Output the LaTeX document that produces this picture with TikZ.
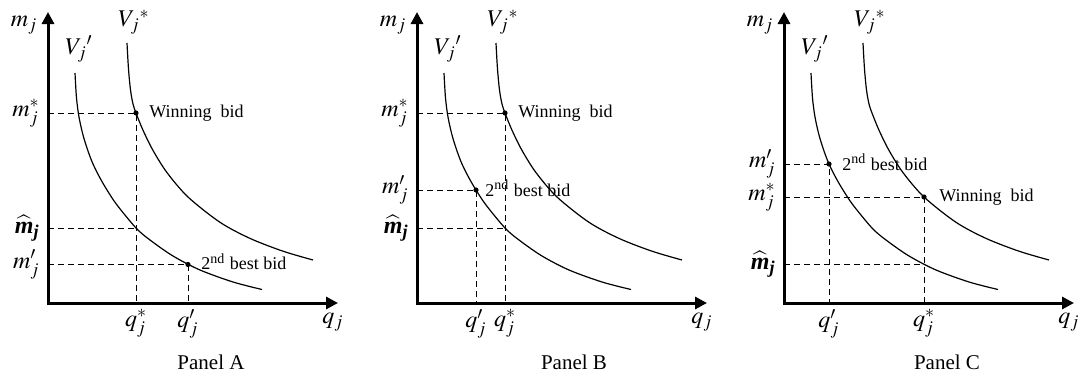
\documentclass[tikz,border=0pt]{standalone}
\usepackage{amsmath}
\usepackage{mathptmx}
\usepackage{fontspec}
\setmainfont{Liberation Serif}
\usetikzlibrary{arrows.meta,positioning}

\tikzset{
  axis/.style={line width=1.5pt, line join=miter, {Triangle[length=6pt,width=6pt]}-{Triangle[length=6pt,width=6pt]}},
  indiff/.style={line width=0.6pt},
  guide/.style={line width=0.5pt, dash pattern=on 3pt off 2pt},
  bid/.style={circle, fill, inner sep=0pt, minimum size=2.6pt},
  lbl/.style={font=\fontsize{9}{11}\selectfont, inner sep=1pt},
  sym/.style={font=\fontsize{12}{14}\selectfont, inner sep=1pt},
  title/.style={font=\fontsize{10.5}{12}\selectfont, inner sep=1pt},
}

\newcommand{\mhat}{\widehat{\textbf{\textit{m}}}_{\textbf{\textit{j}}}}
% axes, axis names and the two indifference curves of one panel
\newcommand{\drawframe}[1]{%
  \coordinate (o#1) at (0,0);
  \coordinate (ytop#1) at (0,291);
  \coordinate (xend#1) at (290,0);
  \draw[axis] (ytop#1) -- (o#1) -- (xend#1);
  \draw[indiff] plot[smooth] coordinates {(79,260) (80.5,234) (82.5,213) (85,199) (88,190) (95,172.8)
    (105,152.6) (119,130.4) (140,106) (172,80.7) (202,64.6) (235,51.8) (265,43)};
  \draw[indiff] plot[smooth] coordinates {(27,230) (28.5,205) (31,186) (35,168) (40,152) (45,139)
    (52,125) (59,113) (69,98) (88,75) (102,63) (125,47) (152,33) (185,21) (214,13.5)};
  \node[sym] (my#1) at (-24,278) {$m_j$};
  \node[sym, anchor=north] (qx#1) at (285,-8) {$q_j$};
  \node[sym] (vs#1) at (86,281) {$V_j{}^{*}$};
  \node[sym] (vp#1) at (31,254) {$V_j{}'$};
}

\begin{document}
\begin{tikzpicture}[x=0.5pt, y=0.5pt]
\useasboundingbox (0,0) rectangle (1083,376);

% Panel A
\begin{scope}[shift={(48,73)}]
  \drawframe{A}
  \coordinate (wA) at (88,190);
  \coordinate (hA) at (88,75);
  \coordinate (sA) at (140,38.5);
  \coordinate (ywA) at (wA -| oA);
  \coordinate (yhA) at (hA -| oA);
  \coordinate (ysA) at (sA -| oA);
  \coordinate (xwA) at (wA |- oA);
  \coordinate (xsA) at (sA |- oA);
  \draw[guide] (ywA) -- (wA) -- (xwA);
  \draw[guide] (yhA) -- (hA);
  \draw[guide] (ysA) -- (sA) -- (xsA);
  \node[bid] (dwA) at (wA) {};
  \node[bid] (dsA) at (sA) {};
  \node[lbl, right=4pt of dwA] (twA) {Winning~ bid};
  \node[lbl, right=4pt of dsA, yshift=1.5pt] (tsA) {2\textsuperscript{nd} best bid};
  \node[sym, left=3pt of ywA] (mwA) {$m_j^*$};
  \node[sym, left=3pt of yhA] (mhA) {$\mhat$};
  \node[sym, left=3pt of ysA] (msA) {$m'_j$};
  \node[sym, below=2pt of xwA] (qwA) {$q_j^*$};
  \node[sym, below=2pt of xsA] (qsA) {$q'_j$};
  \node[title] (pA) at (163,-59) {Panel A};
\end{scope}

% Panel B
\begin{scope}[shift={(417,73)}]
  \drawframe{B}
  \coordinate (wB) at (88,190);
  \coordinate (hB) at (88,75);
  \coordinate (sB) at (59,113);
  \coordinate (ywB) at (wB -| oB);
  \coordinate (yhB) at (hB -| oB);
  \coordinate (ysB) at (sB -| oB);
  \coordinate (xwB) at (wB |- oB);
  \coordinate (xsB) at (sB |- oB);
  \draw[guide] (ywB) -- (wB) -- (xwB);
  \draw[guide] (yhB) -- (hB);
  \draw[guide] (ysB) -- (sB) -- (xsB);
  \node[bid] (dwB) at (wB) {};
  \node[bid] (dsB) at (sB) {};
  \node[lbl, right=4pt of dwB] (twB) {Winning~ bid};
  \node[lbl, right=2pt of dsB, yshift=1pt] (tsB) {2\textsuperscript{nd} best bid};
  \node[sym, left=3pt of ywB] (mwB) {$m_j^*$};
  \node[sym, left=3pt of yhB] (mhB) {$\mhat$};
  \node[sym, left=3pt of ysB] (msB) {$m'_j$};
  \node[sym, below=2pt of xwB] (qwB) {$q_j^*$};
  \node[sym, below=2pt of xsB] (qsB) {$q'_j$};
  \node[title] (pB) at (157,-59) {Panel B};
\end{scope}

% Panel C
\begin{scope}[shift={(784,73)}]
  \drawframe{C}
  \coordinate (wC) at (140,106);
  \coordinate (hC) at (140,38.5);
  \coordinate (sC) at (45,139);
  \coordinate (ywC) at (wC -| oC);
  \coordinate (yhC) at (hC -| oC);
  \coordinate (ysC) at (sC -| oC);
  \coordinate (xwC) at (wC |- oC);
  \coordinate (xsC) at (sC |- oC);
  \draw[guide] (ywC) -- (wC) -- (xwC);
  \draw[guide] (yhC) -- (hC);
  \draw[guide] (ysC) -- (sC) -- (xsC);
  \node[bid] (dwC) at (wC) {};
  \node[bid] (dsC) at (sC) {};
  \node[lbl, right=5pt of dwC] (twC) {Winning~ bid};
  \node[lbl, right=4pt of dsC, yshift=1pt] (tsC) {2\textsuperscript{nd} best bid};
  \node[sym, left=3pt of ywC] (mwC) {$m_j^*$};
  \node[sym, left=3pt of yhC] (mhC) {$\mhat$};
  \node[sym, left=3pt of ysC] (msC) {$m'_j$};
  \node[sym, below=2pt of xwC] (qwC) {$q_j^*$};
  \node[sym, below=2pt of xsC] (qsC) {$q'_j$};
  \node[title] (pC) at (163,-59) {Panel C};
\end{scope}
\end{tikzpicture}
\end{document}
